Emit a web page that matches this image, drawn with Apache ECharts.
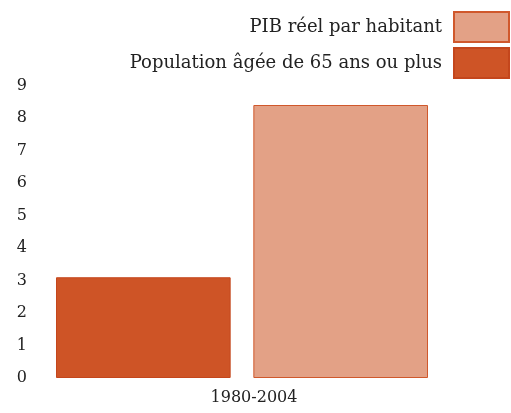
<!DOCTYPE html>
<html><head><meta charset="utf-8">
<script src="https://cdn.jsdelivr.net/npm/echarts@6/dist/echarts.min.js"></script>
<style>html,body{margin:0;padding:0;background:#fff}#c{width:511px;height:413px}</style>
</head><body><div id="c"></div>
<script>
const categories = ['1980-2004'];
const seriesNames = ['Population âgée de 65 ans ou plus', 'PIB réel par habitant'];
const populationValues = [3.1];
const pibValues = [8.4];
const yTicks = [0, 9, 1];
const FONT = 'DejaVu Serif';
const chart = echarts.init(document.getElementById('c'));
chart.setOption({
  animation: false,
  textStyle: { fontFamily: FONT },
  legend: {
    data: [seriesNames[1], seriesNames[0]],
    orient: 'vertical', right: 1, top: 11, align: 'right', padding: 0,
    icon: 'rect',
    itemWidth: 55, itemHeight: 30, itemGap: 4,
    textStyle: { fontFamily: FONT, fontSize: 18, color: '#222', padding: [0, 7, 0, 0] }
  },
  grid: { left: 56, right: 83, top: 85.5, bottom: 35, containLabel: false },
  xAxis: {
    type: 'category', data: categories,
    axisLine: { show: false }, axisTick: { show: false },
    axisLabel: { fontFamily: FONT, fontSize: 16, color: '#222', margin: 12, padding: [0, 0, 0, 24] }
  },
  yAxis: {
    type: 'value', min: yTicks[0], max: yTicks[1], interval: yTicks[2],
    splitLine: { show: false }, axisLine: { show: false }, axisTick: { show: false },
    axisLabel: { fontFamily: FONT, fontSize: 16, color: '#222', margin: 29, align: 'right' }
  },
  series: [
    { name: seriesNames[0], type: 'bar', data: populationValues, barGap: '13%', barCategoryGap: '0%',
      itemStyle: { color: '#CE5426', borderColor: '#C4461C', borderWidth: 1 } },
    { name: seriesNames[1], type: 'bar', data: pibValues,
      itemStyle: { color: '#E3A186', borderColor: '#D0582C', borderWidth: 1 } }
  ]
});
</script></body></html>
